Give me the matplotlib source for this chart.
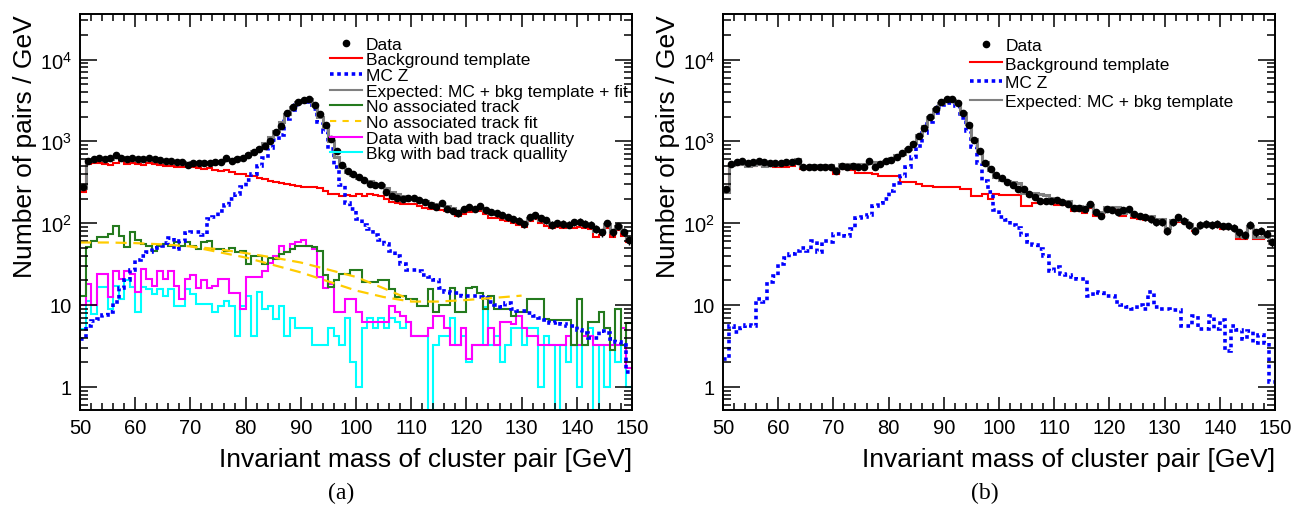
import numpy as np
import matplotlib
matplotlib.use('Agg')
import matplotlib.pyplot as plt
from matplotlib.ticker import MultipleLocator, LogLocator, FuncFormatter, NullFormatter
from matplotlib.lines import Line2D

plt.rcParams['font.family'] = ['Liberation Sans', 'DejaVu Sans']
plt.rcParams['mathtext.fontset'] = 'custom'
plt.rcParams['mathtext.rm'] = 'Liberation Sans'
plt.rcParams['mathtext.it'] = 'Liberation Sans'

# 1 GeV bins from 50 to 150
edges = np.arange(50, 151, 1)

# ---- panel (a) ----
a_data = [275,
          570, 610, 630, 610, 620, 680, 620, 610, 630,
          610, 600, 620, 610, 590, 570, 575, 560, 555, 515,
          545, 540, 550, 540, 560, 555, 630, 580, 600, 620,
          690, 740, 810, 880, 1000, 1300, 1520, 2200, 2650, 3000,
          3220, 3250, 2800, 2130, 1600, 1060, 760, 520, 430, 400,
          365, 340, 300, 290, 295, 240, 215, 205, 200, 205,
          205, 190, 180, 168, 157, 178, 150, 140, 132, 150,
          157, 150, 160, 145, 137, 132, 127, 118, 112, 107,
          97, 118, 125, 115, 108, 95, 100, 98, 96, 102,
          104, 98, 96, 85, 77, 100, 77, 92, 78, 62]
a_bkg = [240,
         530, 545, 550, 530, 520, 550, 570, 530, 540,
         530, 520, 540, 530, 510, 500, 505, 490, 480, 490,
         490, 470, 460, 470, 450, 435, 440, 420, 400, 395,
         380, 375, 360, 350, 330, 320, 310, 300, 290, 285,
         280, 280, 275, 270, 250, 230, 225, 215, 220, 215,
         225, 215, 230, 220, 215, 200, 180, 178, 173, 170,
         172, 160, 155, 150, 150, 145, 141, 135, 123, 128,
         137, 140, 141, 130, 117, 115, 108, 105, 100, 95,
         89, 105, 113, 100, 92, 86, 90, 88, 90, 88,
         90, 86, 84, 68, 72, 86, 68, 82, 70, 59]
a_mcz = [3.8,
         5.6, 6.3, 6.8, 7.6, 8.2, 11, 16, 20, 27,
         35, 40, 45, 50, 53, 57, 65, 48, 60, 75,
         78, 78, 72, 112, 120, 140, 165, 195, 230, 280,
         340, 400, 500, 620, 820, 1050, 1200, 1900, 2400, 2800,
         3000, 3000, 2450, 1700, 1300, 800, 480, 290, 175, 148,
         112, 95, 85, 72, 63, 55, 46, 40, 32, 27,
         27, 26, 23, 22, 20, 16, 14.5, 14, 14, 13,
         13, 13, 12.5, 12, 11, 10, 9.5, 10.5, 9, 8.5,
         8.5, 8.0, 7.4, 7.0, 6.5, 6.0, 6.2, 5.8, 5.5, 5.5,
         5.0, 4.5, 4.0, 3.9, 4.8, 4.5, 3.8, 3.5, 3.2, 1.5]
a_expected = [270,
              580, 600, 620, 600, 600, 640, 650, 610, 620,
              610, 600, 610, 600, 590, 580, 580, 560, 560, 550,
              560, 550, 540, 560, 570, 570, 590, 600, 620, 650,
              700, 760, 840, 950, 1120, 1350, 1700, 2150, 2650, 3000,
              3200, 3250, 2750, 2000, 1500, 1000, 650, 480, 420, 390,
              360, 330, 330, 305, 295, 270, 240, 225, 215, 205,
              205, 190, 185, 175, 172, 165, 160, 152, 140, 145,
              152, 155, 155, 145, 132, 130, 122, 117, 112, 107,
              100, 115, 122, 110, 103, 97, 100, 98, 98, 100,
              100, 95, 94, 80, 82, 97, 78, 93, 80, 65]
a_notrack = [13,
             51, 61, 67, 67, 73, 92, 70, 51, 77,
             62, 55, 53, 46, 53, 55, 53, 58, 53, 58,
             53, 48, 58, 61, 48, 48, 46, 50, 44, 46,
             31.5, 40, 40, 31.5, 38, 36, 42, 44, 48, 53,
             53, 53, 51, 46, 23, 16.5, 20, 24, 24, 27,
             27, 19, 19, 19, 20, 20, 15.5, 12.5, 13, 11.8,
             11.8, 9.8, 9.8, 15.6, 8.2, 10, 10, 16, 8.2, 8.2,
             16, 16.5, 14, 8.8, 13, 8.8, 8.8, 8.8, 7.4, 8.2,
             8.2, 11.8, 11.8, 11.8, 6.8, 6.5, 6.5, 6.5, 6.5, 3.2,
             11.8, 3.2, 6.2, 6.2, 8.2, 5.3, 2.8, 9, 3.2, 6]
a_baddata = [10,
             18, 10, 24, 24, 12.5, 26, 21, 26, 24,
             14.4, 27.5, 21, 17, 26, 21, 26, 17, 11.8, 21,
             23, 16, 20, 16, 17, 21, 21, 14, 14, 9,
             22, 22, 22, 26, 33, 40, 52, 44, 55, 58,
             62, 53, 48, 22, 16, 18, 8.2, 8.2, 11.8, 11.8,
             8.2, 6.2, 6.2, 6.2, 6.2, 6.2, 9.8, 8.2, 7.4, 6.2,
             4.2, 4.2, 4.2, 5.3, 7.3, 7.3, 5.3, 3.2, 3.2, 5.3,
             2.2, 3.2, 3.2, 3.2, 5.3, 3.2, 6.2, 6.2, 5.8, 7.4,
             5.3, 4.2, 4.2, 3.2, 3.2, 3.2, 3.2, 3.2, 4.2, 3.2,
             3.2, 4.2, 4.2, 3.2, 3.2, 3.2, 3.2, 3.2, 5.3, 1.7]
a_badbkg = [5.1,
            11.3, 7.8, 16.5, 16.5, 9, 17, 11.8, 20, 16.5,
            8.2, 16.5, 15.6, 13.5, 15.6, 13, 15.6, 9.8, 9.8, 15.6,
            13.5, 10.3, 10.3, 10.3, 8.2, 9.8, 11.3, 9.8, 4.2, 9.8,
            13, 4.2, 14.4, 9, 9.8, 6.8, 9.8, 4.2, 7, 5.3,
            5.3, 5.3, 3.2, 3.2, 3.2, 5.3, 4.2, 3.2, 7, 2,
            1, 5.3, 7, 5.3, 7, 5.3, 7, 6.2, 5.3, 6.2,
            4.2, 4.2, 4.2, 0, 3.2, 4.2, 4.2, 7, 3.2, 4.2,
            2, 3.2, 3.2, 9.4, 3.2, 4.2, 2, 3.2, 5.3, 5.3,
            3.2, 5.3, 5.3, 1, 4.2, 3.2, 0, 3.2, 2, 3.2,
            1, 3.2, 5.3, 0, 3.2, 1, 3.2, 2, 3.2, 1]
# fits of the no-track sample (two variants), read at a few masses
fit1_mass = [50, 55, 60, 65, 70, 75, 80, 85, 90, 95, 100, 105, 110]
fit1_vals = [58, 58, 57, 55, 52, 48, 43, 38, 33, 27, 22, 16, 11.5]
fit2_mass = [70, 80, 90, 100, 105, 110, 115, 120, 125, 130]
fit2_vals = [52, 38, 25, 15, 12.5, 11, 11, 11.5, 12.2, 13]

# ---- panel (b) ----
b_data = [260,
          525, 560, 575, 540, 560, 580, 560, 550, 545,
          550, 555, 560, 575, 490, 485, 490, 480, 490, 480,
          435, 500, 490, 495, 490, 490, 580, 485, 530, 575,
          590, 640, 720, 800, 930, 1150, 1450, 2000, 2500, 3000,
          3270, 3300, 2950, 2200, 1600, 1050, 760, 550, 465, 385,
          360, 315, 290, 260, 265, 225, 210, 188, 188, 188,
          190, 180, 172, 152, 152, 150, 172, 137, 123, 150,
          145, 135, 145, 147, 130, 123, 118, 112, 102, 102,
          81, 102, 118, 107, 95, 81, 95, 98, 95, 98,
          92, 92, 88, 77, 72, 95, 77, 81, 74, 58]
b_bkg = [240,
         510, 520, 530, 500, 505, 515, 495, 500, 490,
         490, 490, 500, 560, 455, 455, 455, 455, 455, 455,
         400, 455, 455, 440, 415, 415, 415, 400, 375, 375,
         375, 375, 315, 315, 315, 300, 285, 285, 280, 280,
         280, 280, 280, 260, 260, 215, 215, 225, 200, 225,
         220, 220, 220, 220, 162, 162, 178, 178, 178, 178,
         165, 165, 165, 141, 141, 133, 155, 123, 123, 145,
         145, 145, 123, 135, 115, 112, 110, 108, 102, 102,
         78, 102, 102, 105, 92, 80, 92, 92, 92, 92,
         85, 85, 85, 64, 64, 88, 64, 64, 70, 56]
b_mcz = [2.2,
         5.6, 4.7, 5.3, 5.7, 5.6, 11.8, 10.8, 19, 22.7,
         31.5, 37, 42, 46, 50, 46, 61, 44, 61, 58,
         73, 73, 70, 84, 117, 120, 125, 162, 175, 200,
         250, 310, 380, 480, 640, 880, 1250, 1720, 2200, 2650,
         2950, 2950, 2700, 1950, 1350, 850, 550, 330, 240, 145,
         118, 108, 95, 88, 72, 58, 54, 48, 40, 26,
         29, 24, 23, 22, 21, 21, 13, 14.5, 14, 13,
         13, 11, 10, 9.5, 9, 10, 9, 14.5, 9.5, 9,
         9, 8.7, 8.7, 5.6, 5.6, 7.4, 5.1, 5.1, 7.4, 5.1,
         6.5, 2.7, 5.5, 5.0, 3.8, 4.8, 3.4, 4.3, 3.4, 1.15]

RED = '#ff0000'
BLUE = '#0000ff'
GREY = '#808080'
GREEN = '#247a1e'
YELLOW = '#ffcc00'
MAGENTA = '#ff00ff'
CYAN = '#00ffff'


def hist(ax, vals, **kw):
    v = np.maximum(np.asarray(vals, float), 1e-3)
    ax.stairs(v, edges, baseline=None, **kw)


def style_axes(ax):
    ax.set_yscale('log')
    ax.set_xlim(50, 150)
    ax.set_ylim(0.52, 3.6e4)
    ax.xaxis.set_major_locator(MultipleLocator(10))
    ax.xaxis.set_minor_locator(MultipleLocator(2))
    ax.yaxis.set_major_locator(LogLocator(base=10, numticks=10))
    ax.yaxis.set_minor_locator(LogLocator(base=10, subs=np.arange(2, 10), numticks=20))
    ax.yaxis.set_minor_formatter(NullFormatter())
    ax.yaxis.set_major_formatter(FuncFormatter(
        lambda v, p: '1' if v == 1 else ('10' if v == 10 else r'$10^{%d}$' % round(np.log10(v)))))
    ax.tick_params(axis='both', which='both', direction='in', top=True, right=True,
                   labelsize=14.5, width=1.1)
    ax.tick_params(axis='x', which='major', length=9.5, pad=6)
    ax.tick_params(axis='x', which='minor', length=4.7)
    ax.tick_params(axis='y', which='major', length=12, pad=6)
    ax.tick_params(axis='y', which='minor', length=6)
    for s in ax.spines.values():
        s.set_linewidth(1.4)
    ax.set_xlabel('Invariant mass of cluster pair [GeV]', fontsize=19, loc='right', labelpad=7)
    ax.set_ylabel('Number of pairs / GeV', fontsize=19, loc='top', labelpad=2)


fig = plt.figure(figsize=(13.12, 5.06), dpi=100)
axa = fig.add_axes([80 / 1312, 1 - 411 / 506, 552 / 1312, 396 / 506])
axb = fig.add_axes([723 / 1312, 1 - 411 / 506, 552 / 1312, 396 / 506])

centers = edges[:-1] + 0.5

# panel (a)
hist(axa, a_badbkg, color=CYAN, lw=1.5)
hist(axa, a_baddata, color=MAGENTA, lw=1.5)
hist(axa, a_notrack, color=GREEN, lw=1.5)
axa.plot(fit1_mass, fit1_vals, color=YELLOW, lw=1.6, ls=(0, (5, 3)))
axa.plot(fit2_mass, fit2_vals, color=YELLOW, lw=1.6, ls=(2, (5, 3)))
hist(axa, a_bkg, color=RED, lw=1.5)
hist(axa, a_mcz, color=BLUE, lw=2.6, ls=(0, (1, 1)))
hist(axa, a_expected, color=GREY, lw=2.2)
axa.errorbar(centers, a_data, yerr=np.sqrt(a_data), fmt='o', color='black', ms=4.5, lw=1, capsize=0)
style_axes(axa)

h_a = [Line2D([], [], marker='o', color='black', ls='none', ms=4.5),
       Line2D([], [], color=RED, lw=1.5),
       Line2D([], [], color=BLUE, lw=2.6, ls=(0, (1, 1))),
       Line2D([], [], color=GREY, lw=1.5),
       Line2D([], [], color=GREEN, lw=1.5),
       Line2D([], [], color=YELLOW, lw=1.5, ls=(0, (3, 3))),
       Line2D([], [], color=MAGENTA, lw=1.5),
       Line2D([], [], color=CYAN, lw=1.5)]
l_a = ['Data', 'Background template', 'MC Z', 'Expected: MC + bkg template + fit',
       'No associated track', 'No associated track fit', 'Data with bad track quallity',
       'Bkg with bad track quallity']
axa.legend(h_a, l_a, loc='upper left', bbox_to_anchor=(0.453, 0.943), frameon=False,
           fontsize=12.5, handlelength=1.85, handletextpad=0.2, labelspacing=0.03,
           borderpad=0, borderaxespad=0)

# panel (b)
hist(axb, b_bkg, color=RED, lw=1.5)
hist(axb, b_mcz, color=BLUE, lw=2.6, ls=(0, (1, 1)))
hist(axb, np.add(b_bkg, b_mcz), color=GREY, lw=2.2)
axb.errorbar(centers, b_data, yerr=np.sqrt(b_data), fmt='o', color='black', ms=4.5, lw=1, capsize=0)
style_axes(axb)

h_b = h_a[:4]
l_b = ['Data', 'Background template', 'MC Z', 'Expected: MC + bkg template']
axb.legend(h_b, l_b, loc='upper left', bbox_to_anchor=(0.447, 0.94), frameon=False,
           fontsize=12.5, handlelength=1.85, handletextpad=0.2, labelspacing=0.2,
           borderpad=0, borderaxespad=0)

fig.text(341 / 1312, 1 - 493 / 506, '(a)', family='Liberation Serif', fontsize=17, ha='center', va='center')
fig.text(985 / 1312, 1 - 493 / 506, '(b)', family='Liberation Serif', fontsize=17, ha='center', va='center')

fig.savefig('out.png', dpi=100)
